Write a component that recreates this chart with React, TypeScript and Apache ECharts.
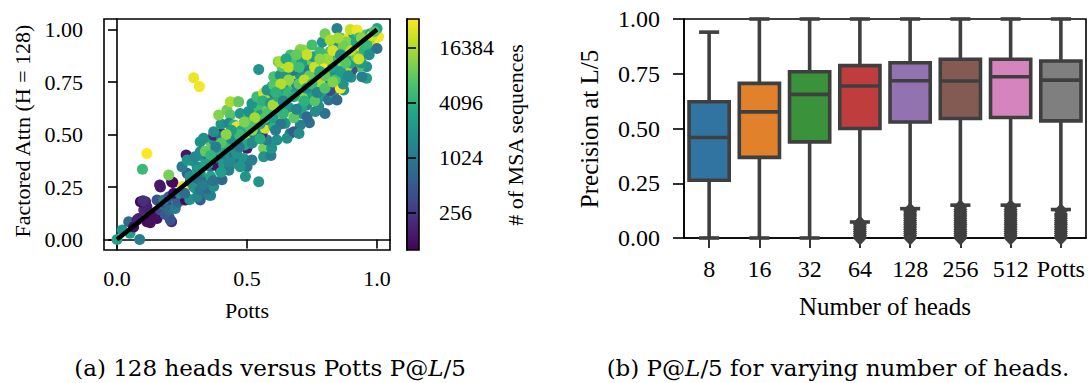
import React, { useEffect, useRef } from "react";
import * as echarts from "echarts";

// ---------------- Panel (a): scatter data [Potts P@L/5, Factored Attn P@L/5, log2(# MSA sequences)]
const lowerPoints = [
  [0.0, 0.0, 11.5], [0.02, 0.045, 11.0], [0.05, 0.03, 11.4], [0.045, 0.085, 9.5], [0.087, 0.0, 10.2],
  [0.064, 0.06, 6.9], [0.077, 0.093, 7.5], [0.083, 0.1, 7.4], [0.115, 0.085, 6.8], [0.135, 0.108, 7.2],
  [0.154, 0.1, 6.9], [0.128, 0.08, 7.0], [0.103, 0.14, 7.6], [0.09, 0.18, 6.8], [0.11, 0.18, 7.5],
  [0.115, 0.156, 7.4], [0.1, 0.185, 7.8], [0.14, 0.11, 7.0], [0.167, 0.14, 8.5], [0.154, 0.188, 8.8],
  [0.192, 0.125, 9.0], [0.2, 0.108, 9.0], [0.21, 0.085, 7.5], [0.205, 0.093, 8.8], [0.186, 0.156, 9.8],
  [0.185, 0.12, 9.0], [0.19, 0.17, 8.5], [0.2, 0.14, 9.5], [0.224, 0.148, 10.2], [0.18, 0.188, 10.3],
  [0.2, 0.204, 9.0], [0.23, 0.172, 10.0], [0.235, 0.18, 9.3], [0.25, 0.188, 9.3], [0.263, 0.188, 6.9],
  [0.218, 0.22, 7.0], [0.164, 0.26, 7.2], [0.167, 0.25, 7.2], [0.215, 0.271, 6.9], [0.21, 0.275, 6.8],
  [0.253, 0.252, 14.8], [0.256, 0.244, 15.0], [0.199, 0.307, 13.3], [0.098, 0.334, 12.3], [0.115, 0.41, 15.2],
  [0.266, 0.402, 7.2], [0.27, 0.315, 9.3], [0.282, 0.276, 9.4], [0.295, 0.252, 10.6], [0.28, 0.19, 11.0],
  [0.25, 0.347, 10.2], [0.27, 0.378, 11.0], [0.29, 0.375, 10.9], [0.242, 0.22, 10.5], [0.295, 0.77, 14.8],
  [0.26, 0.22, 9.6], [0.28, 0.3, 10.8],
];

const middlePoints = [
  [0.317, 0.728, 14.9], [0.3, 0.245, 11.0], [0.32, 0.2, 9.5], [0.34, 0.23, 9.0], [0.36, 0.21, 10.5],
  [0.32, 0.188, 9.2], [0.353, 0.212, 10.3], [0.308, 0.204, 10.5], [0.32, 0.236, 10.0], [0.346, 0.244, 9.5],
  [0.372, 0.252, 10.8], [0.333, 0.284, 9.3], [0.404, 0.284, 9.5], [0.32, 0.315, 11.0], [0.308, 0.347, 10.8],
  [0.359, 0.347, 9.5], [0.397, 0.331, 10.0], [0.31, 0.33, 11.2], [0.32, 0.4, 10.8], [0.3, 0.394, 10.5],
  [0.32, 0.418, 10.6], [0.353, 0.394, 9.3], [0.385, 0.378, 7.2], [0.378, 0.355, 7.0], [0.38, 0.39, 11.0],
  [0.34, 0.42, 13.0], [0.365, 0.418, 13.0], [0.397, 0.41, 10.5], [0.423, 0.395, 10.0], [0.385, 0.442, 9.5],
  [0.359, 0.466, 13.0], [0.32, 0.466, 10.8], [0.333, 0.482, 10.8], [0.372, 0.474, 11.0], [0.41, 0.474, 10.5],
  [0.404, 0.505, 7.3], [0.41, 0.5, 7.4], [0.372, 0.497, 7.5], [0.39, 0.497, 7.3], [0.4, 0.49, 9.6],
  [0.372, 0.513, 10.8], [0.4, 0.55, 11.0], [0.391, 0.593, 13.5], [0.423, 0.617, 13.2], [0.436, 0.593, 12.8],
  [0.43, 0.553, 10.5], [0.45, 0.545, 12.0], [0.436, 0.513, 12.5], [0.46, 0.537, 14.7], [0.474, 0.513, 11.0],
  [0.45, 0.505, 13.0], [0.474, 0.48, 11.0], [0.494, 0.49, 13.8], [0.45, 0.442, 11.0], [0.464, 0.434, 7.5],
  [0.5, 0.434, 7.3], [0.423, 0.418, 11.0], [0.45, 0.394, 9.6], [0.45, 0.363, 11.0], [0.474, 0.378, 10.0],
  [0.487, 0.386, 11.0], [0.5, 0.347, 10.0], [0.474, 0.347, 11.0], [0.494, 0.3, 11.0], [0.545, 0.275, 11.0],
  [0.519, 0.378, 10.2], [0.513, 0.458, 11.0], [0.538, 0.48, 12.5], [0.564, 0.434, 13.3], [0.564, 0.394, 11.0],
  [0.592, 0.4, 10.2], [0.595, 0.434, 11.0], [0.577, 0.474, 10.2], [0.558, 0.505, 7.5], [0.538, 0.52, 11.0],
  [0.5, 0.545, 11.0], [0.57, 0.53, 14.5], [0.474, 0.6, 11.0], [0.506, 0.593, 12.3], [0.526, 0.617, 13.3],
  [0.545, 0.625, 12.5], [0.464, 0.656, 13.8], [0.436, 0.656, 14.0], [0.468, 0.656, 13.0], [0.506, 0.61, 10.8],
  [0.519, 0.648, 11.0], [0.538, 0.68, 12.4], [0.564, 0.696, 14.5], [0.59, 0.672, 9.9], [0.57, 0.665, 14.0],
  [0.577, 0.712, 11.0], [0.596, 0.728, 11.0], [0.545, 0.81, 11.0], [0.42, 0.46, 12.2], [0.44, 0.48, 10.7],
  [0.48, 0.52, 11.8], [0.52, 0.56, 12.1], [0.55, 0.59, 11.3], [0.58, 0.62, 13.1], [0.53, 0.5, 10.4],
  [0.49, 0.45, 11.7], [0.46, 0.41, 10.9], [0.41, 0.36, 11.1], [0.43, 0.33, 10.3], [0.36, 0.3, 11.5],
  [0.35, 0.36, 10.7], [0.39, 0.43, 11.9], [0.56, 0.66, 12.0], [0.58, 0.57, 10.5], [0.52, 0.52, 13.6],
  [0.31, 0.29, 9.7], [0.33, 0.26, 10.1], [0.37, 0.28, 9.8], [0.4, 0.32, 11.3], [0.43, 0.37, 10.6],
  [0.47, 0.44, 9.9], [0.52, 0.46, 10.6], [0.55, 0.48, 11.8], [0.58, 0.6, 12.6], [0.59, 0.65, 11.1],
  [0.57, 0.58, 12.7], [0.55, 0.55, 11.6], [0.53, 0.58, 13.9], [0.51, 0.54, 12.6], [0.49, 0.56, 13.4],
  [0.47, 0.5, 12.3], [0.44, 0.52, 11.3], [0.42, 0.5, 13.6], [0.4, 0.46, 12.8], [0.38, 0.44, 10.2],
  [0.36, 0.4, 12.1], [0.34, 0.36, 11.4],
];

const upperPoints = [
  [0.603, 0.537, 12.0], [0.628, 0.593, 13.5], [0.647, 0.553, 11.0], [0.666, 0.505, 9.8], [0.673, 0.617, 14.7],
  [0.71, 0.6, 11.0], [0.74, 0.556, 9.7], [0.705, 0.545, 10.3], [0.615, 0.474, 10.8], [0.654, 0.482, 10.8],
  [0.68, 0.513, 9.0], [0.7, 0.505, 10.7], [0.731, 0.585, 9.5], [0.763, 0.61, 10.7], [0.8, 0.6, 9.8],
  [0.776, 0.633, 10.6], [0.744, 0.665, 10.7], [0.705, 0.68, 13.8], [0.68, 0.72, 12.5], [0.654, 0.744, 13.2],
  [0.615, 0.76, 11.5], [0.603, 0.735, 12.8], [0.603, 0.775, 12.6], [0.628, 0.783, 11.0], [0.622, 0.664, 11.0],
  [0.628, 0.696, 13.3], [0.673, 0.775, 7.8], [0.667, 0.775, 11.0], [0.692, 0.76, 14.0], [0.718, 0.736, 12.5],
  [0.744, 0.76, 11.0], [0.77, 0.728, 12.0], [0.795, 0.744, 14.6], [0.82, 0.76, 9.8], [0.846, 0.744, 11.0],
  [0.872, 0.775, 11.0], [0.814, 0.696, 10.0], [0.782, 0.68, 11.0], [0.814, 0.664, 9.8], [0.833, 0.696, 11.0],
  [0.872, 0.712, 11.0], [0.846, 0.664, 9.5], [0.82, 0.71, 8.5], [0.859, 0.72, 15.0], [0.9, 0.773, 11.0],
  [0.96, 0.768, 11.3], [0.942, 0.775, 10.2], [0.96, 0.823, 11.0], [0.93, 0.823, 12.7], [0.885, 0.807, 11.0],
  [0.904, 0.807, 8.8], [0.885, 0.823, 14.0], [0.846, 0.823, 12.0], [0.814, 0.815, 14.5], [0.79, 0.823, 10.5],
  [0.77, 0.8, 12.5], [0.75, 0.83, 11.0], [0.731, 0.807, 10.4], [0.718, 0.8, 10.0], [0.705, 0.783, 11.0],
  [0.68, 0.807, 9.8], [0.686, 0.823, 10.8], [0.654, 0.807, 11.0], [0.635, 0.823, 12.8], [0.64, 0.84, 14.6],
  [0.62, 0.847, 13.4], [0.628, 0.847, 14.0], [0.667, 0.879, 12.5], [0.68, 0.847, 12.6], [0.712, 0.871, 11.0],
  [0.718, 0.902, 13.8], [0.705, 0.905, 13.5], [0.744, 0.855, 13.0], [0.756, 0.87, 11.2], [0.75, 0.926, 12.5],
  [0.782, 0.855, 11.0], [0.78, 0.895, 12.3], [0.8, 0.84, 14.9], [0.82, 0.895, 12.5], [0.833, 0.863, 14.8],
  [0.846, 0.855, 12.3], [0.872, 0.879, 11.0], [0.885, 0.855, 10.0], [0.86, 0.92, 11.0], [0.833, 0.934, 11.2],
  [0.79, 0.94, 11.0], [0.8, 0.98, 13.2], [0.82, 0.95, 14.0], [0.86, 0.96, 12.8], [0.89, 0.96, 14.7],
  [0.89, 0.91, 14.9], [0.91, 0.935, 12.5], [0.91, 0.887, 11.0], [0.91, 0.855, 11.0], [0.923, 0.902, 11.0],
  [0.936, 0.88, 10.0], [0.94, 0.863, 14.9], [0.936, 0.918, 14.8], [0.96, 0.887, 11.0], [0.95, 0.95, 14.0],
  [0.955, 0.974, 12.8], [0.974, 0.918, 11.0], [0.974, 0.98, 11.8], [0.987, 0.942, 15.0], [0.91, 0.98, 11.5],
  [0.897, 1.0, 14.3], [0.923, 0.998, 14.8], [0.846, 1.005, 10.3], [1.0, 0.91, 9.8], [1.006, 0.966, 14.9],
  [1.0, 1.005, 11.5], [0.64, 0.72, 11.5], [0.66, 0.7, 12.2], [0.69, 0.7, 11.0], [0.72, 0.7, 13.5],
  [0.75, 0.7, 11.5], [0.73, 0.64, 10.5], [0.76, 0.66, 12.8], [0.79, 0.71, 11.2], [0.81, 0.78, 12.0],
  [0.84, 0.79, 10.8], [0.86, 0.84, 13.6], [0.88, 0.88, 12.2], [0.9, 0.84, 11.4], [0.92, 0.87, 13.0],
  [0.94, 0.84, 11.2], [0.95, 0.9, 12.0], [0.97, 0.95, 13.8], [0.93, 0.96, 12.4], [0.88, 0.94, 13.4],
  [0.85, 0.89, 11.6], [0.77, 0.78, 10.9], [0.74, 0.78, 13.1], [0.71, 0.84, 11.4], [0.69, 0.74, 10.6],
  [0.66, 0.63, 11.2], [0.62, 0.62, 12.4], [0.6, 0.58, 11.3], [0.63, 0.55, 9.9], [0.68, 0.58, 12.9],
  [0.71, 0.63, 11.6], [0.78, 0.75, 13.9], [0.83, 0.82, 11.5], [0.87, 0.74, 10.9],
  [0.6, 0.64, 13.9], [0.62, 0.68, 11.8], [0.64, 0.66, 10.4], [0.66, 0.76, 13.7], [0.68, 0.68, 11.9],
  [0.7, 0.74, 12.9], [0.72, 0.76, 14.2], [0.73, 0.72, 10.8], [0.75, 0.74, 12.3], [0.76, 0.82, 14.4],
  [0.78, 0.8, 11.8], [0.8, 0.78, 13.0], [0.81, 0.86, 13.8], [0.83, 0.9, 14.5], [0.84, 0.76, 12.6],
  [0.86, 0.8, 11.3], [0.87, 0.92, 13.2], [0.88, 0.84, 12.8], [0.89, 0.78, 10.6], [0.9, 0.9, 14.1],
  [0.92, 0.94, 11.7], [0.93, 0.86, 14.4], [0.94, 0.96, 13.5], [0.96, 0.93, 12.2], [0.97, 0.88, 10.8],
  [0.98, 0.97, 14.4], [0.99, 0.99, 12.7], [0.85, 0.96, 13.9], [0.78, 0.86, 13.6], [0.73, 0.88, 14.3],
  [0.69, 0.88, 13.0], [0.65, 0.86, 11.6], [0.66, 0.82, 14.2], [0.7, 0.82, 12.4], [0.63, 0.74, 14.1],
  [0.61, 0.7, 12.0], [0.61, 0.52, 10.1], [0.64, 0.6, 12.1], [0.69, 0.62, 10.4], [0.72, 0.66, 12.0],
  [0.77, 0.7, 10.4], [0.8, 0.72, 12.7], [0.83, 0.75, 13.4], [0.86, 0.88, 10.7],
];

const fitLineX = [0, 1];
const fitLineY = [0, 1];
const pottsTicks = [0, 0.5, 1];
const attnTicks = [0, 0.25, 0.5, 0.75, 1];
const msaLog2Min = 6.64;
const msaLog2Max = 15.04;
const msaTickLog2 = [8, 10, 12, 14]; // 256, 1024, 4096, 16384

// ---------------- Panel (b): box plots
const headCounts = ["8", "16", "32", "64", "128", "256", "512", "Potts"];
const whiskerLow = [0, 0, 0, 0.073, 0.134, 0.15, 0.15, 0.13];
const quartile1 = [0.264, 0.368, 0.439, 0.5, 0.53, 0.546, 0.55, 0.535];
const medians = [0.459, 0.576, 0.656, 0.694, 0.718, 0.717, 0.736, 0.721];
const quartile3 = [0.622, 0.706, 0.759, 0.787, 0.8, 0.816, 0.816, 0.808];
const whiskerHigh = [0.94, 1, 1, 1, 1, 1, 1, 1];
const outliers64 = [0.0, 0.01, 0.02, 0.03, 0.04, 0.05, 0.06, 0.068];
const outliers128 = [0.0, 0.01, 0.02, 0.03, 0.04, 0.05, 0.06, 0.07, 0.08, 0.09, 0.1, 0.11, 0.12, 0.128];
const outliers256 = [0.0, 0.01, 0.02, 0.03, 0.04, 0.05, 0.06, 0.07, 0.08, 0.09, 0.1, 0.11, 0.12, 0.13, 0.143];
const outliers512 = [0.0, 0.01, 0.02, 0.03, 0.04, 0.05, 0.06, 0.07, 0.08, 0.09, 0.1, 0.11, 0.12, 0.13, 0.143];
const outliersPotts = [0.0, 0.01, 0.02, 0.03, 0.04, 0.05, 0.06, 0.07, 0.08, 0.09, 0.1, 0.11, 0.124];
const yTicksB = [0, 0.25, 0.5, 0.75, 1];

const boxColors = ["#3274a1", "#e1812c", "#3a923a", "#c03d3e", "#9372b2", "#845b53", "#d684bd", "#7f7f7f"];
const edge = "#3f3f3f";
const viridis = ["#440154", "#482475", "#414487", "#355f8d", "#2a788e", "#21918c", "#22a884", "#44bf70", "#7ad151", "#bddf26", "#fde725"];
const serif = "Liberation Serif";

export default function App() {
  const ref = useRef<HTMLDivElement>(null);
  useEffect(() => {
    const chart = echarts.init(ref.current!, null, { renderer: "svg" });
    const scatterData = [...lowerPoints, ...middlePoints, ...upperPoints];
    const boxData = headCounts.map((_, i) => [i, whiskerLow[i], quartile1[i], medians[i], quartile3[i], whiskerHigh[i]]);
    const outlierSets: [number, number[]][] = [[3, outliers64], [4, outliers128], [5, outliers256], [6, outliers512], [7, outliersPotts]];
    const outlierData: number[][] = [];
    outlierSets.forEach(([ci, vals]) => vals.forEach((v) => outlierData.push([ci, v])));

    const tickStyle = { color: "#000", width: 1.6 };
    const axisLineStyle = { show: true, lineStyle: { color: "#000", width: 1.6 } };
    const gradStops = viridis.map((c, i) => ({ offset: i / (viridis.length - 1), color: c }));

    const option: any = {
      animation: false,
      backgroundColor: "#fff",
      grid: [
        { left: 104, top: 19, width: 286, height: 231, show: true, borderColor: "#000", borderWidth: 1.6, backgroundColor: "transparent", outerBoundsMode: "none", containLabel: false },
        { left: 684, top: 19, width: 402, height: 219, show: true, borderColor: "#000", borderWidth: 1.6, backgroundColor: "transparent", outerBoundsMode: "none", containLabel: false },
        { left: 407, top: 19, width: 12, height: 231, show: true, borderColor: "#000", borderWidth: 1.6, backgroundColor: new echarts.graphic.LinearGradient(0, 1, 0, 0, gradStops), outerBoundsMode: "none", containLabel: false },
      ],
      xAxis: [
        {
          gridIndex: 0, type: "value", min: -0.05, max: 1.05,
          axisLine: axisLineStyle,
          axisTick: { show: true, inside: false, length: 9, lineStyle: tickStyle, customValues: pottsTicks },
          axisLabel: { customValues: pottsTicks, formatter: (v: number) => v.toFixed(1), margin: 17, fontFamily: serif, fontSize: 22, color: "#000" },
          splitLine: { show: false },
        },
        {
          gridIndex: 1, type: "category", data: headCounts, boundaryGap: true,
          axisLine: axisLineStyle,
          axisTick: { show: true, alignWithLabel: true, inside: false, length: 10, lineStyle: tickStyle },
          axisLabel: { margin: 19, fontFamily: serif, fontSize: 24, color: "#000", interval: 0 },
          splitLine: { show: false },
        },
        { gridIndex: 2, type: "value", min: 0, max: 1, show: false },
      ],
      yAxis: [
        {
          gridIndex: 0, type: "value", min: -0.05, max: 1.05,
          axisLine: axisLineStyle,
          axisTick: { show: true, inside: false, length: 9, lineStyle: tickStyle, customValues: attnTicks },
          axisLabel: { customValues: attnTicks, formatter: (v: number) => v.toFixed(2), margin: 21, fontFamily: serif, fontSize: 22, color: "#000" },
          splitLine: { show: false },
        },
        {
          gridIndex: 1, type: "value", min: 0, max: 1,
          axisLine: axisLineStyle,
          axisTick: { show: true, inside: false, length: 11, lineStyle: tickStyle, customValues: yTicksB },
          axisLabel: { customValues: yTicksB, formatter: (v: number) => v.toFixed(2), margin: 24, fontFamily: serif, fontSize: 24, color: "#000" },
          splitLine: { show: false },
        },
        {
          gridIndex: 2, type: "value", position: "right", min: msaLog2Min, max: msaLog2Max,
          axisLine: axisLineStyle,
          axisTick: { show: true, inside: false, length: 9, lineStyle: tickStyle, customValues: msaTickLog2 },
          axisLabel: { customValues: msaTickLog2, formatter: (v: number) => String(Math.round(Math.pow(2, v))), margin: 20, fontFamily: serif, fontSize: 22, color: "#000" },
          splitLine: { show: false },
        },
      ],
      visualMap: {
        show: false, type: "continuous", seriesIndex: 0, dimension: 2,
        min: msaLog2Min, max: msaLog2Max, inRange: { color: viridis },
      },
      series: [
        {
          type: "scatter", xAxisIndex: 0, yAxisIndex: 0, data: scatterData,
          symbol: "circle", symbolSize: 11, itemStyle: { opacity: 1 }, z: 2, clip: false,
        },
        {
          type: "line", xAxisIndex: 0, yAxisIndex: 0,
          data: fitLineX.map((x, i) => [x, fitLineY[i]]),
          symbol: "none", lineStyle: { color: "#000", width: 4.5 }, z: 3,
        },
        {
          type: "scatter", xAxisIndex: 1, yAxisIndex: 1, data: outlierData,
          symbol: "diamond", symbolSize: [14, 15], itemStyle: { color: edge, opacity: 1 }, z: 2,
        },
        {
          type: "custom", xAxisIndex: 1, yAxisIndex: 1, data: boxData, z: 3, clip: false,
          encode: { x: 0, y: [1, 2, 3, 4, 5] },
          renderItem: (params: any, api: any) => {
            const ci = api.value(0);
            const lo = api.coord([ci, api.value(1)]);
            const q1 = api.coord([ci, api.value(2)]);
            const md = api.coord([ci, api.value(3)]);
            const q3 = api.coord([ci, api.value(4)]);
            const hi = api.coord([ci, api.value(5)]);
            const band = api.size([1, 0])[0];
            const bw = band * 0.8;
            const cw = bw * 0.5;
            const x = lo[0];
            const s = { stroke: edge, lineWidth: 3.6, fill: "none" };
            return {
              type: "group",
              children: [
                { type: "line", shape: { x1: x, y1: q3[1], x2: x, y2: hi[1] }, style: s },
                { type: "line", shape: { x1: x, y1: q1[1], x2: x, y2: lo[1] }, style: s },
                { type: "line", shape: { x1: x - cw / 2, y1: hi[1], x2: x + cw / 2, y2: hi[1] }, style: s },
                { type: "line", shape: { x1: x - cw / 2, y1: lo[1], x2: x + cw / 2, y2: lo[1] }, style: s },
                { type: "rect", shape: { x: x - bw / 2, y: q3[1], width: bw, height: q1[1] - q3[1] }, style: { fill: boxColors[params.dataIndex], stroke: edge, lineWidth: 3.6 } },
                { type: "line", shape: { x1: x - bw / 2, y1: md[1], x2: x + bw / 2, y2: md[1] }, style: s },
              ],
            };
          },
        },
      ],
      graphic: [
        { type: "text", x: 22, y: 131, rotation: Math.PI / 2, style: { text: "Factored Attn (H = 128)", fontFamily: serif, fontSize: 22, fill: "#000", align: "center", verticalAlign: "middle" } },
        { type: "text", x: 247, y: 310, style: { text: "Potts", fontFamily: serif, fontSize: 22, fill: "#000", align: "center", verticalAlign: "middle" } },
        { type: "text", x: 515, y: 135, rotation: Math.PI / 2, style: { text: "# of MSA sequences", fontFamily: serif, fontSize: 22, fill: "#000", align: "center", verticalAlign: "middle" } },
        { type: "text", x: 589, y: 129, rotation: Math.PI / 2, style: { text: "Precision at L/5", fontFamily: serif, fontSize: 25, fill: "#000", align: "center", verticalAlign: "middle" } },
        { type: "text", x: 885, y: 306, style: { text: "Number of heads", fontFamily: serif, fontSize: 25, fill: "#000", align: "center", verticalAlign: "middle" } },
        {
          type: "text", x: 270, y: 368,
          style: {
            text: "(a) 128 heads versus Potts P@{it|L}/5", fontFamily: "DejaVu Serif", fontSize: 23, fill: "#000",
            align: "center", verticalAlign: "middle",
            rich: { it: { fontStyle: "italic", fontFamily: "DejaVu Serif", fontSize: 23, fill: "#000" } },
          },
        },
        {
          type: "text", x: 838, y: 368,
          style: {
            text: "(b) P@{it|L}/5 for varying number of heads.", fontFamily: "DejaVu Serif", fontSize: 23, fill: "#000",
            align: "center", verticalAlign: "middle",
            rich: { it: { fontStyle: "italic", fontFamily: "DejaVu Serif", fontSize: 23, fill: "#000" } },
          },
        },
      ],
    };
    chart.setOption(option);
    return () => chart.dispose();
  }, []);
  return <div ref={ref} style={{ position: "fixed", left: 0, top: 0, width: 1088, height: 383, background: "#fff" }} />;
}
